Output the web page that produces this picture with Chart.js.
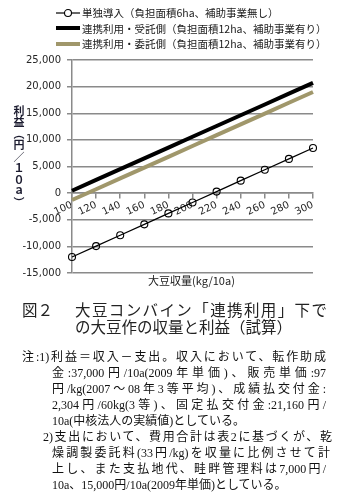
<!DOCTYPE html>
<html lang="ja">
<head>
<meta charset="utf-8">
<script src="https://cdn.jsdelivr.net/npm/chart.js@4.4.1/dist/chart.umd.min.js"></script>
<style>
  body { margin: 0; background: #fff; }
  #page { position: relative; width: 352px; height: 504px; overflow: hidden; font-family: "Noto Sans CJK JP", sans-serif; color: #111; }
  #chartBox { position: absolute; left: 0; top: 0; width: 352px; height: 285px; }
  #legend { position: absolute; left: 55px; top: 5px; font-size: 10.5px; color: #1a1a1a; }
  .lg-row { display: flex; align-items: center; height: 15.5px; white-space: nowrap; }
  .lg-row svg { width: 26px; height: 10px; margin-right: 1px; }
  #yTitle { position: absolute; left: 11px; top: 105px; writing-mode: vertical-rl; text-orientation: upright; font-size: 11px; font-weight: bold; color: #1c1c30; letter-spacing: 0.5px; }
  #xTitle { position: absolute; left: 148px; top: 272px; font-size: 11px; color: #1a1a1a; }
  #caption { position: absolute; left: 22px; top: 302px; display: flex; font-family: "Liberation Serif", "Noto Sans CJK JP", serif; font-size: 15.5px; line-height: 17px; color: #222; }
  #caption .num { width: 53px; }
  #caption .j { width: 252px; text-align: justify; text-align-last: justify; white-space: nowrap; }
  #notes { position: absolute; left: 0; top: 349px; font-family: "Liberation Serif", "Noto Sans CJK JP", serif; font-size: 12px; line-height: 16px; color: #111; white-space: nowrap; }
  #notes div { text-align: left; }
  #notes .l0 { margin-left: 22px; width: 304px; }
  #notes .l1 { margin-left: 52px; width: 274px; }
  #notes .l2 { margin-left: 43px; width: 289px; }
  #notes .l1.w { width: 278px; }
  #notes .j { text-align: justify; text-align-last: justify; }
</style>
</head>
<body>
<div id="page">
  <div id="chartBox"><canvas id="profitChart" width="352" height="285"></canvas></div>
  <div id="legend"></div>
  <div id="yTitle">利益（円／１０ａ）</div>
  <div id="xTitle">大豆収量(kg/10a)</div>
  <div id="caption">
    <span class="num">図２</span>
    <div>
      <div class="j">大豆コンバイン「連携利用」下で</div>
      <div>の大豆作の収量と利益（試算）</div>
    </div>
  </div>
  <div id="notes">
    <div class="l0 j">注:1)利益＝収入－支出。収入において、転作助成</div>
    <div class="l1 j">金:37,000円/10a(2009年単価)、販売単価:97</div>
    <div class="l1 j">円/kg(2007～08年3等平均)、成績払交付金:</div>
    <div class="l1 j">2,304円/60kg(3等)、固定払交付金:21,160円/</div>
    <div class="l1">10a(中核法人の実績値)としている。</div>
    <div class="l2 j">2)支出において、費用合計は表2に基づくが、乾</div>
    <div class="l1 w j">燥調製委託料(33円/kg)を収量に比例させて計</div>
    <div class="l1 j">上し、また支払地代、畦畔管理料は7,000円/</div>
    <div class="l1">10a、15,000円/10a(2009年単価)としている。</div>
  </div>
</div>
<script>
// Данные графика (收量 kg/10a と 利益 円/10a)
const yieldLabels = ["100", "120", "140", "160", "180", "200", "220", "240", "260", "280", "300"];
const seriesNames = [
  "単独導入（負担面積6ha、補助事業無し）",
  "連携利用・受託側（負担面積12ha、補助事業有り）",
  "連携利用・委託側（負担面積12ha、補助事業有り）"
];
const singleProfit = [-12000, -9950, -7900, -5860, -3810, -1760, 290, 2340, 4380, 6430, 8480];
const contractorProfit = [450, 2480, 4500, 6530, 8550, 10580, 12600, 14630, 16650, 18680, 20700];
const consignorProfit = [-1300, 730, 2760, 4790, 6820, 8850, 10880, 12910, 14940, 16970, 19000];
const yMin = -15000;
const yMax = 25000;
const yStep = 5000;

const gridColor = "#8a8a8a";
const tickFont = { family: "DejaVu Sans", size: 10 };

const ctx = document.getElementById("profitChart").getContext("2d");
const chart = new Chart(ctx, {
  type: "line",
  data: {
    labels: yieldLabels,
    datasets: [
      {
        label: seriesNames[0],
        data: singleProfit,
        borderColor: "#000",
        borderWidth: 1.2,
        pointRadius: 3.5,
        pointBorderWidth: 1.1,
        pointBorderColor: "#000",
        pointBackgroundColor: "rgba(0,0,0,0)",
        tension: 0
      },
      {
        label: seriesNames[1],
        data: contractorProfit,
        borderColor: "#000",
        borderWidth: 4,
        pointRadius: 0,
        tension: 0
      },
      {
        label: seriesNames[2],
        data: consignorProfit,
        borderColor: "#a0976b",
        borderWidth: 4,
        pointRadius: 0,
        tension: 0
      }
    ]
  },
  options: {
    responsive: false,
    animation: false,
    layout: { padding: { top: 60, right: 39, bottom: 12, left: 0 } },
    plugins: {
      legend: { display: false },
      tooltip: { enabled: false }
    },
    scales: {
      x: {
        position: { y: 0 },
        grid: { drawOnChartArea: false, drawTicks: true, tickLength: 5, color: gridColor, lineWidth: 1.5 },
        border: { color: gridColor, width: 1.5 },
        ticks: { minRotation: 25, maxRotation: 25, autoSkip: false, padding: 1, font: tickFont, color: "#262626" }
      },
      y: {
        min: yMin,
        max: yMax,
        afterFit(scale) { scale.width = 72; },
        grid: { color: gridColor, lineWidth: 1.5, tickLength: 5 },
        border: { color: gridColor, width: 1.5 },
        ticks: {
          stepSize: yStep,
          padding: 6,
          font: tickFont,
          color: "#262626",
          callback: v => v.toLocaleString("en-US")
        }
      }
    }
  }
});

// Легенда в HTML, строится по наборам данных графика
const legendBox = document.getElementById("legend");
chart.data.datasets.forEach(ds => {
  const row = document.createElement("div");
  row.className = "lg-row";
  const w = ds.borderWidth;
  let svg = `<svg viewBox="0 0 26 10"><line x1="1" y1="5" x2="25" y2="5" stroke="${ds.borderColor}" stroke-width="${w}"/>`;
  if (ds.pointRadius > 0) {
    svg += `<circle cx="13" cy="5" r="${ds.pointRadius}" fill="#fff" stroke="${ds.pointBorderColor}" stroke-width="${ds.pointBorderWidth}"/>`;
  }
  svg += "</svg>";
  row.innerHTML = svg + `<span>${ds.label}</span>`;
  legendBox.appendChild(row);
});
</script>
</body>
</html>
